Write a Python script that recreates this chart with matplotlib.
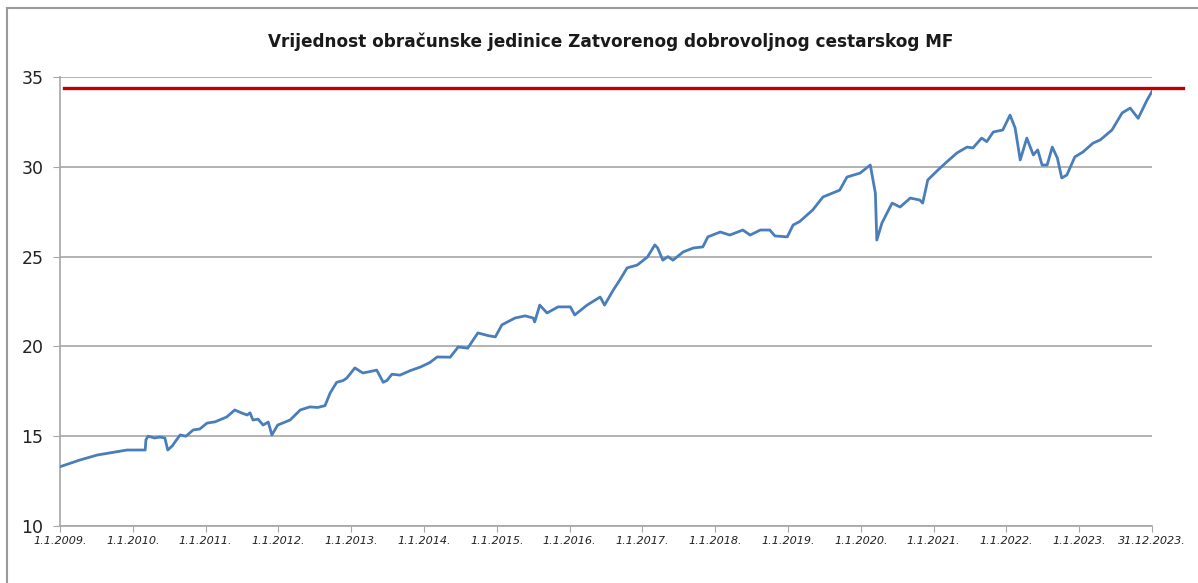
import matplotlib.pyplot as plt
from matplotlib.lines import Line2D

# ---------- podaci (očitano s grafa) ----------
godine = [2009.00, 2009.27, 2009.51, 2009.92, 2010.17, 2010.18, 2010.21, 2010.30, 2010.37, 2010.44,
          2010.48, 2010.54, 2010.58, 2010.65, 2010.73, 2010.83, 2010.92, 2011.02, 2011.13, 2011.29,
          2011.40, 2011.49, 2011.57, 2011.61, 2011.65, 2011.72, 2011.79, 2011.86, 2011.91, 2011.99,
          2012.16, 2012.30, 2012.43, 2012.54, 2012.64, 2012.71, 2012.80, 2012.89, 2012.94, 2013.05,
          2013.16, 2013.26, 2013.35, 2013.44, 2013.49, 2013.56, 2013.67, 2013.81, 2013.95, 2014.08,
          2014.18, 2014.36, 2014.47, 2014.60, 2014.74, 2014.88, 2014.98, 2015.07, 2015.25, 2015.39,
          2015.50, 2015.52, 2015.59, 2015.69, 2015.84, 2016.01, 2016.07, 2016.24, 2016.42, 2016.48,
          2016.60, 2016.69, 2016.79, 2016.93, 2017.07, 2017.17, 2017.21, 2017.28, 2017.35, 2017.42,
          2017.56, 2017.70, 2017.83, 2017.90, 2018.07, 2018.20, 2018.38, 2018.48, 2018.62, 2018.75,
          2018.82, 2018.99, 2019.07, 2019.16, 2019.34, 2019.48, 2019.71, 2019.81, 2019.99, 2020.13,
          2020.20, 2020.22, 2020.29, 2020.43, 2020.54, 2020.68, 2020.81, 2020.85, 2020.92, 2021.06,
          2021.18, 2021.32, 2021.46, 2021.54, 2021.66, 2021.73, 2021.82, 2021.95, 2022.05, 2022.12,
          2022.19, 2022.28, 2022.37, 2022.43, 2022.49, 2022.56, 2022.63, 2022.70, 2022.76, 2022.83,
          2022.94, 2023.05, 2023.19, 2023.29, 2023.45, 2023.59, 2023.70, 2023.81, 2023.93, 2024.00]
vrijednosti = [13.30, 13.67, 13.95, 14.23, 14.23, 14.80, 15.00, 14.90, 14.95, 14.90,
               14.23, 14.45, 14.68, 15.07, 15.00, 15.35, 15.40, 15.73, 15.80, 16.07,
               16.46, 16.30, 16.18, 16.30, 15.90, 15.95, 15.62, 15.79, 15.07, 15.62,
               15.90, 16.46, 16.63, 16.60, 16.70, 17.40, 18.00, 18.10, 18.24, 18.80,
               18.52, 18.60, 18.68, 18.00, 18.10, 18.45, 18.40, 18.65, 18.85, 19.10,
               19.41, 19.40, 19.97, 19.90, 20.75, 20.60, 20.53, 21.20, 21.58, 21.70,
               21.58, 21.36, 22.30, 21.86, 22.20, 22.20, 21.75, 22.30, 22.75, 22.30,
               23.14, 23.70, 24.37, 24.53, 24.98, 25.65, 25.48, 24.80, 25.00, 24.80,
               25.26, 25.48, 25.54, 26.10, 26.37, 26.20, 26.48, 26.20, 26.48, 26.48,
               26.15, 26.10, 26.76, 26.95, 27.60, 28.32, 28.70, 29.43, 29.65, 30.10,
               28.54, 25.92, 26.87, 27.98, 27.76, 28.26, 28.15, 27.98, 29.27, 29.82,
               30.27, 30.77, 31.10, 31.05, 31.60, 31.40, 31.94, 32.05, 32.88, 32.16,
               30.38, 31.60, 30.66, 30.94, 30.10, 30.10, 31.10, 30.49, 29.38, 29.54,
               30.55, 30.82, 31.32, 31.50, 32.05, 33.00, 33.27, 32.70, 33.70, 34.20]

crvena_razina = 34.4
pozicije_oznaka = list(range(2009, 2025))
oznake_x = [f"1.1.{g}." for g in range(2009, 2024)] + ["31.12.2023."]
oznake_y = [10, 15, 20, 25, 30, 35]
naslov = "Vrijednost obračunske jedinice Zatvorenog dobrovoljnog cestarskog MF"

# ---------- graf ----------
fig = plt.figure(figsize=(11.98, 5.83), dpi=100)
ax = fig.add_axes([0.0501, 0.0978, 0.9115, 0.7701])

ax.plot(godine, vrijednosti, color="#4a7ebb", lw=2.0, zorder=3)
ax.plot([2009.05, 2024.43], [crvena_razina, crvena_razina], color="#c00000",
        lw=2.4, clip_on=False, zorder=4)

ax.set_xlim(2009, 2024)
ax.set_ylim(10, 35)
ax.set_yticks(oznake_y)
ax.set_yticklabels([str(v) for v in oznake_y], fontsize=12.5)
ax.set_xticks(pozicije_oznaka)
ax.set_xticklabels(oznake_x, fontsize=8.1, style="italic")

ax.grid(axis="y", color="#a6a6a6", lw=1.2)
ax.set_axisbelow(True)
for s in ["top", "right"]:
    ax.spines[s].set_visible(False)
for s in ["left", "bottom"]:
    ax.spines[s].set_color("#a6a6a6")
    ax.spines[s].set_linewidth(1.2)
ax.tick_params(axis="y", length=5, color="#a6a6a6", pad=7, labelcolor="#222222")
ax.tick_params(axis="x", length=4, color="#a6a6a6", pad=3, labelcolor="#222222")

fig.text(0.51, 0.928, naslov, ha="center", va="center", fontsize=12.2,
         fontweight="bold", color="#1a1a1a")

# okvir grafikona (vidljivi su samo gornji i lijevi rub)
fig.add_artist(Line2D([7 / 1198, 1], [1 - 8 / 583, 1 - 8 / 583], color="#9a9a9a", lw=1.5))
fig.add_artist(Line2D([7 / 1198, 7 / 1198], [0, 1 - 8 / 583], color="#9a9a9a", lw=1.5))

fig.savefig("out.png", dpi=100)
